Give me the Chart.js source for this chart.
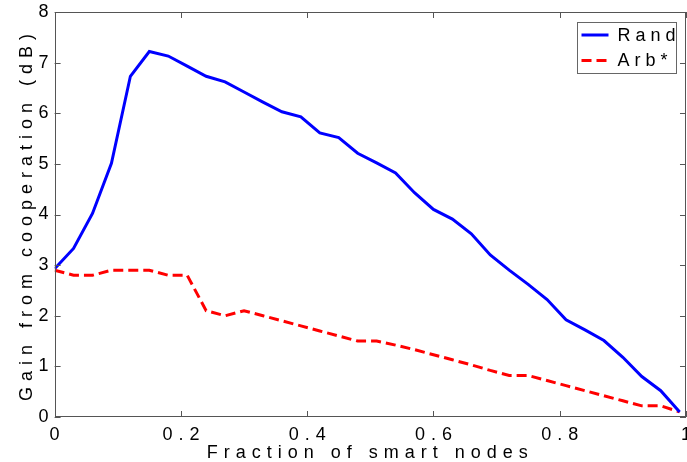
<!DOCTYPE html>
<html>
<head>
<meta charset="utf-8">
<script src="https://cdn.jsdelivr.net/npm/chart.js@4"></script>
<style>
  html, body { margin: 0; padding: 0; background: #fff; overflow: hidden; }
</style>
</head>
<body>
<canvas id="chart" width="703" height="462"></canvas>
<script>
// fraction of smart nodes (x values)
const fractions = [0, 0.03, 0.06, 0.09, 0.12, 0.15, 0.18, 0.21, 0.24, 0.27, 0.30, 0.33,
  0.36, 0.39, 0.42, 0.45, 0.48, 0.51, 0.54, 0.57, 0.60, 0.63, 0.66, 0.69, 0.72, 0.75,
  0.78, 0.81, 0.84, 0.87, 0.90, 0.93, 0.96, 0.99];

// gain from cooperation (dB)
const randGain = [2.93, 3.33, 4.02, 5.01, 6.73, 7.22, 7.13, 6.93, 6.73, 6.62, 6.42, 6.22,
  6.03, 5.93, 5.61, 5.52, 5.21, 5.02, 4.82, 4.43, 4.10, 3.91, 3.62, 3.20, 2.90, 2.62,
  2.32, 1.92, 1.72, 1.51, 1.18, 0.80, 0.52, 0.10];
const arbGain = [2.90, 2.80, 2.80, 2.90, 2.90, 2.90, 2.80, 2.80, 2.10, 2.00, 2.10, 2.00,
  1.90, 1.80, 1.70, 1.60, 1.50, 1.50, 1.42, 1.33, 1.23, 1.13, 1.03, 0.92, 0.82, 0.82,
  0.72, 0.62, 0.52, 0.42, 0.32, 0.22, 0.22, 0.10];

const seriesNames = ['Rand', 'Arb*'];
const xTicks = [0, 0.2, 0.4, 0.6, 0.8, 1];
const yTicks = [0, 1, 2, 3, 4, 5, 6, 7, 8];

const FONT = '"Liberation Sans", Arial, Helvetica, sans-serif';

// matlab-ish wide letter spacing on all text
const spacing = {
  id: 'spacing',
  beforeUpdate(chart) { chart.ctx.letterSpacing = '6px'; },
  beforeDraw(chart) { chart.ctx.letterSpacing = '6px'; }
};

// box round the plot, inward ticks, and the boxed legend
const frame = {
  id: 'frame',
  afterDraw(chart) {
    const { ctx, chartArea: a, scales: { x, y } } = chart;
    ctx.save();
    ctx.strokeStyle = '#555';
    ctx.lineWidth = 1;
    ctx.strokeRect(Math.round(a.left) + 0.5, Math.round(a.top) + 0.5,
      Math.round(a.right - a.left) - 1, Math.round(a.bottom - a.top) - 1);
    ctx.beginPath();
    x.ticks.forEach(t => {
      const px = Math.round(x.getPixelForValue(t.value)) + 0.5;
      ctx.moveTo(px, a.bottom); ctx.lineTo(px, a.bottom - 6);
      ctx.moveTo(px, a.top); ctx.lineTo(px, a.top + 6);
    });
    y.ticks.forEach(t => {
      const py = Math.round(y.getPixelForValue(t.value)) + 0.5;
      ctx.moveTo(a.left, py); ctx.lineTo(a.left + 6, py);
      ctx.moveTo(a.right, py); ctx.lineTo(a.right - 6, py);
    });
    ctx.stroke();

    // legend
    const bw = 99, bh = 51;
    const bx = Math.round(a.right - 10 - bw) + 0.5, by = Math.round(a.top + 10) + 0.5;
    ctx.fillStyle = '#fff';
    ctx.fillRect(bx, by, bw, bh);
    ctx.strokeStyle = '#666';
    ctx.strokeRect(bx, by, bw, bh);
    ctx.font = '18px ' + FONT;
    ctx.letterSpacing = '5px';
    ctx.textBaseline = 'middle';
    ctx.textAlign = 'left';
    chart.data.datasets.forEach((ds, i) => {
      const ly = by + 12.5 + i * 25.5;
      ctx.strokeStyle = ds.borderColor;
      ctx.lineWidth = ds.borderWidth;
      ctx.setLineDash(ds.borderDash || []);
      ctx.beginPath();
      ctx.moveTo(bx + 4, ly); ctx.lineTo(bx + 31, ly);
      ctx.stroke();
      ctx.setLineDash([]);
      ctx.fillStyle = '#000';
      ctx.fillText(ds.label, bx + 40, ly + 1);
    });
    ctx.restore();
  }
};

new Chart(document.getElementById('chart'), {
  type: 'line',
  data: {
    datasets: [{
      label: seriesNames[0],
      data: fractions.map((f, i) => ({ x: f, y: randGain[i] })),
      borderColor: '#0000ff',
      borderWidth: 3,
      pointRadius: 0,
      tension: 0,
      fill: false
    }, {
      label: seriesNames[1],
      data: fractions.map((f, i) => ({ x: f, y: arbGain[i] })),
      borderColor: '#ff0000',
      borderWidth: 3,
      borderDash: [10, 5],
      pointRadius: 0,
      tension: 0,
      fill: false
    }]
  },
  options: {
    responsive: false,
    animation: false,
    devicePixelRatio: 1,
    layout: { padding: { left: 17, right: 14, top: 12, bottom: 0 } },
    plugins: {
      legend: { display: false },
      tooltip: { enabled: false }
    },
    scales: {
      x: {
        type: 'linear',
        min: 0,
        max: 1,
        afterBuildTicks: s => { s.ticks = xTicks.map(v => ({ value: v })); },
        ticks: {
          callback: v => v === 0 ? '0' : (v === 1 ? '1' : v.toFixed(1)),
          font: { family: FONT, size: 18, lineHeight: 1 },
          color: '#000',
          padding: 9,
          labelOffset: 3,
          maxRotation: 0
        },
        grid: { display: false, drawTicks: false },
        border: { display: false },
        title: {
          display: true,
          text: 'Fraction of smart nodes',
          font: { family: FONT, size: 18, lineHeight: 1 },
          color: '#000',
          padding: { top: -9, bottom: 0 }
        }
      },
      y: {
        min: 0,
        max: 8,
        afterBuildTicks: s => { s.ticks = yTicks.map(v => ({ value: v })); },
        ticks: {
          font: { family: FONT, size: 18, lineHeight: 1 },
          color: '#000',
          padding: 0
        },
        grid: { display: false, drawTicks: false },
        border: { display: false },
        title: {
          display: true,
          text: 'Gain from cooperation (dB)',
          font: { family: FONT, size: 18, lineHeight: 1 },
          color: '#000',
          padding: { top: 1, bottom: 2.6 }
        }
      }
    }
  },
  plugins: [spacing, frame]
});
</script>
</body>
</html>
